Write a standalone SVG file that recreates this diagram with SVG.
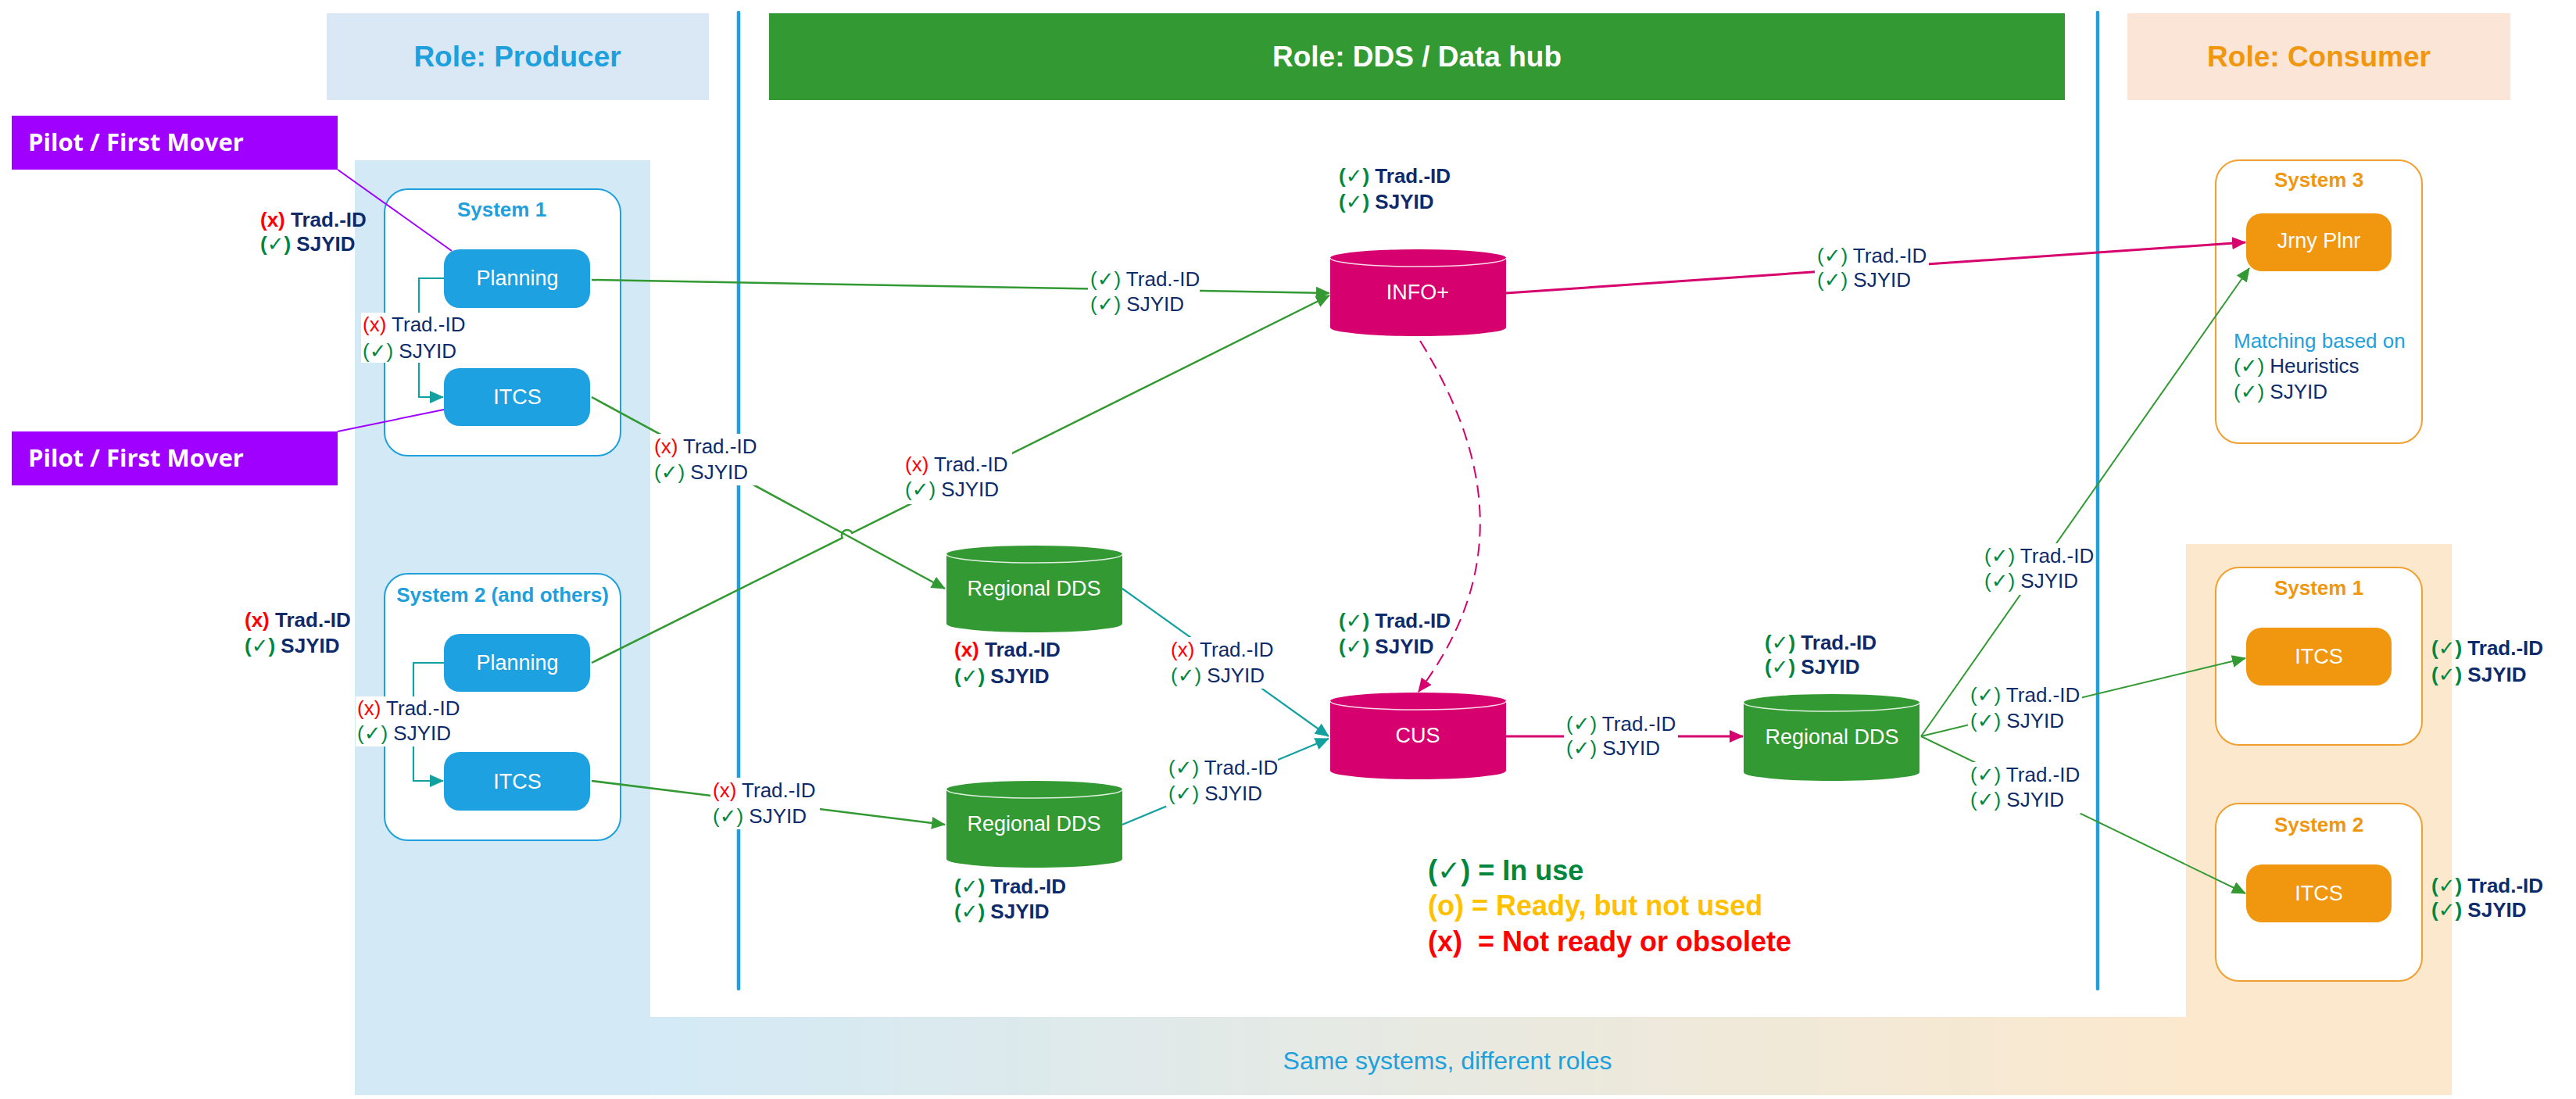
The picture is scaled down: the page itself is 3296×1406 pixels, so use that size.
<svg xmlns="http://www.w3.org/2000/svg" width="3296" height="1406" viewBox="0 0 3296 1406">
  <defs>
    <linearGradient id="roleGrad" gradientUnits="userSpaceOnUse" x1="454" y1="0" x2="3137" y2="0">
      <stop offset="0" stop-color="#d3eaf6"/>
      <stop offset="0.141" stop-color="#d3eaf6"/>
      <stop offset="0.874" stop-color="#fbe8cd"/>
      <stop offset="1" stop-color="#fbe8cd"/>
    </linearGradient>
    <marker id="ah-green" markerUnits="userSpaceOnUse" markerWidth="18" markerHeight="16" viewBox="0 0 18 16" refX="17" refY="8" orient="auto">
      <path d="M0,0 L18,8 L0,16 Z" fill="#339933"/>
    </marker>
    <marker id="ah-teal" markerUnits="userSpaceOnUse" markerWidth="18" markerHeight="16" viewBox="0 0 18 16" refX="17" refY="8" orient="auto">
      <path d="M0,0 L18,8 L0,16 Z" fill="#13a0a0"/>
    </marker>
    <marker id="ah-mag" markerUnits="userSpaceOnUse" markerWidth="18" markerHeight="16" viewBox="0 0 18 16" refX="17" refY="8" orient="auto">
      <path d="M0,0 L18,8 L0,16 Z" fill="#d6006e"/>
    </marker>
    <!-- cylinder body (225 x 111) and the front rim of its lid -->
    <path id="cyl" d="M0,11 A112.5,11 0 0 1 225,11 V100 A112.5,11 0 0 1 0,100 Z"/>
    <path id="cylRim" d="M0,11 A112.5,11 0 0 0 225,11" fill="none" stroke="#ffffff" stroke-opacity="0.85" stroke-width="1.6"/>
    <style>
      text { font-family: "Liberation Sans", Arial, "DejaVu Sans", sans-serif; }
      .hdr { font-size: 37px; font-weight: bold; text-anchor: middle; }
      .pilot { font-family: "Open Sans", "Liberation Sans", sans-serif; font-size: 31px; font-weight: bold; fill: #ffffff; }
      .ttl { font-size: 26px; font-weight: bold; text-anchor: middle; }
      .ttl-p { fill: #1ea0dc; }
      .ttl-c { fill: #f0960f; }
      .ntxt { font-size: 27px; fill: #ffffff; text-anchor: middle; }
      .box-b { fill: #1da1e0; }
      .box-o { fill: #f0960f; }
      .cont-p { fill: #ffffff; stroke: #1ea0dc; stroke-width: 2; }
      .cont-c { fill: #ffffff; stroke: #f0a030; stroke-width: 2; }
      .lbl { font-size: 26px; fill: #0d2b6b; }
      .lbl.b { font-weight: bold; }
      .ok { fill: #00873e; }
      .no { fill: #ff0000; }
      .lab rect { fill: #ffffff; }
      .c-green { stroke: #339933; stroke-width: 2.5; fill: none; }
      .c-green.thin { stroke-width: 2; }
      .c-teal { stroke: #13a0a0; stroke-width: 2.2; fill: none; }
      .c-mag { stroke: #d6006e; stroke-width: 3; fill: none; }
      .c-dash { stroke: #d6006e; stroke-width: 2; fill: none; stroke-dasharray: 16 9; }
      .c-purple { stroke: #a000ff; stroke-width: 2; fill: none; }
      .lane { stroke: #1ea0dc; stroke-width: 4.5; stroke-linecap: round; }
      .legend { font-size: 36px; font-weight: bold; }
    </style>
  </defs>

  <rect width="3296" height="1406" fill="#ffffff"/>

  <!-- shared-systems band behind the producer and consumer columns -->
  <path id="roles-band" d="M454,205 H832 V1301 H2797 V696 H3137 V1401 H454 Z" fill="url(#roleGrad)"/>
  <text x="1852" y="1368" font-size="32" fill="#1ea0dc" text-anchor="middle">Same systems, different roles</text>

  <!-- role headers -->
  <g id="hdr-producer">
    <rect x="418" y="17" width="489" height="111" fill="#dae7f5"/>
    <text class="hdr" x="662" y="85" fill="#1ea0dc">Role: Producer</text>
  </g>
  <g id="hdr-dds">
    <rect x="984" y="17" width="1658" height="111" fill="#339933"/>
    <text class="hdr" x="1813" y="85" fill="#ffffff">Role: DDS / Data hub</text>
  </g>
  <g id="hdr-consumer">
    <rect x="2722" y="17" width="490" height="111" fill="#fbe5d6"/>
    <text class="hdr" x="2967" y="85" fill="#f0960f">Role: Consumer</text>
  </g>

  <!-- lane separators -->
  <line class="lane" x1="945" y1="16" x2="945" y2="1265"/>
  <line class="lane" x1="2684" y1="16" x2="2684" y2="1265"/>

  <!-- system containers -->
  <g id="sys1-producer">
    <rect class="cont-p" x="492" y="242" width="302" height="341" rx="30"/>
    <text class="ttl ttl-p" x="642" y="277">System 1</text>
  </g>
  <g id="sys2-producer">
    <rect class="cont-p" x="492" y="734" width="302" height="341" rx="30"/>
    <text class="ttl ttl-p" x="643" y="770">System 2 (and others)</text>
  </g>
  <g id="sys3-consumer">
    <rect class="cont-c" x="2835" y="205" width="264" height="362" rx="30"/>
    <text class="ttl ttl-c" x="2967" y="239">System 3</text>
    <text class="lbl" x="2858" y="445" fill="#1ea0dc" style="fill:#1ea0dc">Matching based on</text>
    <text class="lbl" x="2858" y="477"><tspan class="ok">(✓)</tspan> Heuristics</text>
    <text class="lbl" x="2858" y="510"><tspan class="ok">(✓)</tspan> SJYID</text>
  </g>
  <g id="sys1-consumer">
    <rect class="cont-c" x="2835" y="726" width="264" height="227" rx="30"/>
    <text class="ttl ttl-c" x="2967" y="761">System 1</text>
  </g>
  <g id="sys2-consumer">
    <rect class="cont-c" x="2835" y="1028" width="264" height="227" rx="30"/>
    <text class="ttl ttl-c" x="2967" y="1064">System 2</text>
  </g>

  <!-- pilot markers -->
  <g id="pilot-1">
    <rect x="15" y="148" width="417" height="69" fill="#a000ff"/>
    <text class="pilot" x="36" y="193">Pilot / First Mover</text>
  </g>
  <g id="pilot-2">
    <rect x="15" y="552" width="417" height="69" fill="#a000ff"/>
    <text class="pilot" x="36" y="597">Pilot / First Mover</text>
  </g>

  <!-- connectors -->
  <g id="connectors">
    <path class="c-green" d="M757,358 L1701,375" marker-end="url(#ah-green)"/>
    <path class="c-green" d="M757,848 L1077.7,688.1 A7,7 0 0 1 1090.3,681.9 L1701,378" marker-end="url(#ah-green)"/>
    <path class="c-green" d="M757,508 L1209,753" marker-end="url(#ah-green)"/>
    <path class="c-green" d="M757,999 L1209,1055" marker-end="url(#ah-green)"/>
    <path class="c-teal" d="M1436,753 L1700,942" marker-end="url(#ah-teal)"/>
    <path class="c-teal" d="M1436,1055 L1700,945" marker-end="url(#ah-teal)"/>
    <path class="c-mag" d="M1927,375 L2873,310" marker-end="url(#ah-mag)"/>
    <path class="c-dash" d="M1817,436 C1921,604 1918.5,747 1815,885" marker-end="url(#ah-mag)"/>
    <path class="c-mag" d="M1927,942 L2230,942" marker-end="url(#ah-mag)"/>
    <path class="c-green thin" d="M2458,942 L2878,343" marker-end="url(#ah-green)"/>
    <path class="c-green thin" d="M2458,942 L2873,842" marker-end="url(#ah-green)"/>
    <path class="c-green thin" d="M2458,942 L2873,1143" marker-end="url(#ah-green)"/>
    <path class="c-teal" d="M568,356 H536 V508 H567" marker-end="url(#ah-teal)"/>
    <path class="c-teal" d="M568,848 H529 V999 H567" marker-end="url(#ah-teal)"/>
    <path class="c-purple" d="M432,217 L578,321"/>
    <path class="c-purple" d="M432,552 L568,524"/>
  </g>

  <!-- producer nodes -->
  <g id="planning-1"><rect class="box-b" x="568" y="319" width="187" height="75" rx="20"/><text class="ntxt" x="662" y="365">Planning</text></g>
  <g id="itcs-1"><rect class="box-b" x="568" y="471" width="187" height="74" rx="20"/><text class="ntxt" x="662" y="517">ITCS</text></g>
  <g id="planning-2"><rect class="box-b" x="568" y="811" width="187" height="74" rx="20"/><text class="ntxt" x="662" y="857">Planning</text></g>
  <g id="itcs-2"><rect class="box-b" x="568" y="962" width="187" height="75" rx="20"/><text class="ntxt" x="662" y="1009">ITCS</text></g>

  <!-- data hub nodes -->
  <g id="info-plus" transform="translate(1702,319)"><use href="#cyl" fill="#d6006e"/><use href="#cylRim"/><text class="ntxt" x="112" y="64">INFO+</text></g>
  <g id="cus" transform="translate(1702,886)"><use href="#cyl" fill="#d6006e"/><use href="#cylRim"/><text class="ntxt" x="112" y="64">CUS</text></g>
  <g id="regional-dds-1" transform="translate(1211,698)"><use href="#cyl" fill="#339933"/><use href="#cylRim"/><text class="ntxt" x="112" y="64">Regional DDS</text></g>
  <g id="regional-dds-2" transform="translate(1211,999)"><use href="#cyl" fill="#339933"/><use href="#cylRim"/><text class="ntxt" x="112" y="64">Regional DDS</text></g>
  <g id="regional-dds-3" transform="translate(2231,888)"><use href="#cyl" fill="#339933"/><use href="#cylRim"/><text class="ntxt" x="113" y="64">Regional DDS</text></g>

  <!-- consumer nodes -->
  <g id="jrny-plnr"><rect class="box-o" x="2874" y="273" width="186" height="74" rx="20"/><text class="ntxt" x="2967" y="317">Jrny Plnr</text></g>
  <g id="itcs-c1"><rect class="box-o" x="2874" y="803" width="186" height="74" rx="20"/><text class="ntxt" x="2967" y="849">ITCS</text></g>
  <g id="itcs-c2"><rect class="box-o" x="2874" y="1106" width="186" height="74" rx="20"/><text class="ntxt" x="2967" y="1152">ITCS</text></g>

  <!-- connector labels -->
  <g id="connector-labels">
    <g class="lab"><rect x="462" y="400" width="138" height="64"/>
      <text class="lbl" x="464" y="424"><tspan class="no">(x)</tspan> Trad.-ID</text>
      <text class="lbl" x="464" y="458"><tspan class="ok">(✓)</tspan> SJYID</text></g>
    <g class="lab"><rect x="455" y="891" width="138" height="64"/>
      <text class="lbl" x="457" y="915"><tspan class="no">(x)</tspan> Trad.-ID</text>
      <text class="lbl" x="457" y="947"><tspan class="ok">(✓)</tspan> SJYID</text></g>
    <g class="lab"><rect x="1392" y="341" width="143" height="66"/>
      <text class="lbl" x="1395" y="366"><tspan class="ok">(✓)</tspan> Trad.-ID</text>
      <text class="lbl" x="1395" y="398"><tspan class="ok">(✓)</tspan> SJYID</text></g>
    <g class="lab"><rect x="1156" y="578" width="139" height="67"/>
      <text class="lbl" x="1158" y="603"><tspan class="no">(x)</tspan> Trad.-ID</text>
      <text class="lbl" x="1158" y="635"><tspan class="ok">(✓)</tspan> SJYID</text></g>
    <g class="lab"><rect x="834" y="555" width="136" height="66"/>
      <text class="lbl" x="837" y="580"><tspan class="no">(x)</tspan> Trad.-ID</text>
      <text class="lbl" x="837" y="613"><tspan class="ok">(✓)</tspan> SJYID</text></g>
    <g class="lab"><rect x="909" y="995" width="140" height="66"/>
      <text class="lbl" x="912" y="1020"><tspan class="no">(x)</tspan> Trad.-ID</text>
      <text class="lbl" x="912" y="1053"><tspan class="ok">(✓)</tspan> SJYID</text></g>
    <g class="lab"><rect x="1495" y="815" width="138" height="66"/>
      <text class="lbl" x="1498" y="840"><tspan class="no">(x)</tspan> Trad.-ID</text>
      <text class="lbl" x="1498" y="873"><tspan class="ok">(✓)</tspan> SJYID</text></g>
    <g class="lab"><rect x="1492" y="966" width="143" height="66"/>
      <text class="lbl" x="1495" y="991"><tspan class="ok">(✓)</tspan> Trad.-ID</text>
      <text class="lbl" x="1495" y="1024"><tspan class="ok">(✓)</tspan> SJYID</text></g>
    <g class="lab"><rect x="2322" y="311" width="146" height="64"/>
      <text class="lbl" x="2325" y="336"><tspan class="ok">(✓)</tspan> Trad.-ID</text>
      <text class="lbl" x="2325" y="367"><tspan class="ok">(✓)</tspan> SJYID</text></g>
    <g class="lab"><rect x="2001" y="910" width="146" height="64"/>
      <text class="lbl" x="2004" y="935"><tspan class="ok">(✓)</tspan> Trad.-ID</text>
      <text class="lbl" x="2004" y="966"><tspan class="ok">(✓)</tspan> SJYID</text></g>
    <g class="lab"><rect x="2536" y="695" width="142" height="66"/>
      <text class="lbl" x="2539" y="720"><tspan class="ok">(✓)</tspan> Trad.-ID</text>
      <text class="lbl" x="2539" y="752"><tspan class="ok">(✓)</tspan> SJYID</text></g>
    <g class="lab"><rect x="2518" y="873" width="146" height="66"/>
      <text class="lbl" x="2521" y="898"><tspan class="ok">(✓)</tspan> Trad.-ID</text>
      <text class="lbl" x="2521" y="931"><tspan class="ok">(✓)</tspan> SJYID</text></g>
    <g class="lab"><rect x="2518" y="975" width="144" height="66"/>
      <text class="lbl" x="2521" y="1000"><tspan class="ok">(✓)</tspan> Trad.-ID</text>
      <text class="lbl" x="2521" y="1032"><tspan class="ok">(✓)</tspan> SJYID</text></g>
  </g>

  <!-- ID status per system -->
  <g id="status-labels">
    <text class="lbl b" x="333" y="290"><tspan class="no">(x)</tspan> Trad.-ID</text>
    <text class="lbl b" x="333" y="321"><tspan class="ok">(✓)</tspan> SJYID</text>
    <text class="lbl b" x="313" y="802"><tspan class="no">(x)</tspan> Trad.-ID</text>
    <text class="lbl b" x="313" y="835"><tspan class="ok">(✓)</tspan> SJYID</text>
    <text class="lbl b" x="1713" y="234"><tspan class="ok">(✓)</tspan> Trad.-ID</text>
    <text class="lbl b" x="1713" y="267"><tspan class="ok">(✓)</tspan> SJYID</text>
    <text class="lbl b" x="1221" y="840"><tspan class="no">(x)</tspan> Trad.-ID</text>
    <text class="lbl b" x="1221" y="874"><tspan class="ok">(✓)</tspan> SJYID</text>
    <text class="lbl b" x="1713" y="803"><tspan class="ok">(✓)</tspan> Trad.-ID</text>
    <text class="lbl b" x="1713" y="836"><tspan class="ok">(✓)</tspan> SJYID</text>
    <text class="lbl b" x="1221" y="1143"><tspan class="ok">(✓)</tspan> Trad.-ID</text>
    <text class="lbl b" x="1221" y="1175"><tspan class="ok">(✓)</tspan> SJYID</text>
    <text class="lbl b" x="2258" y="831"><tspan class="ok">(✓)</tspan> Trad.-ID</text>
    <text class="lbl b" x="2258" y="862"><tspan class="ok">(✓)</tspan> SJYID</text>
    <text class="lbl b" x="3111" y="838"><tspan class="ok">(✓)</tspan> Trad.-ID</text>
    <text class="lbl b" x="3111" y="872"><tspan class="ok">(✓)</tspan> SJYID</text>
    <text class="lbl b" x="3111" y="1142"><tspan class="ok">(✓)</tspan> Trad.-ID</text>
    <text class="lbl b" x="3111" y="1173"><tspan class="ok">(✓)</tspan> SJYID</text>
  </g>

  <!-- legend -->
  <g id="legend">
    <text class="legend" x="1827" y="1126" fill="#00873e">(✓) = In use</text>
    <text class="legend" x="1827" y="1171" fill="#ffc000">(o) = Ready, but not used</text>
    <text class="legend" x="1827" y="1217" fill="#ff0000" style="white-space:pre">(x)  = Not ready or obsolete</text>
  </g>
</svg>
